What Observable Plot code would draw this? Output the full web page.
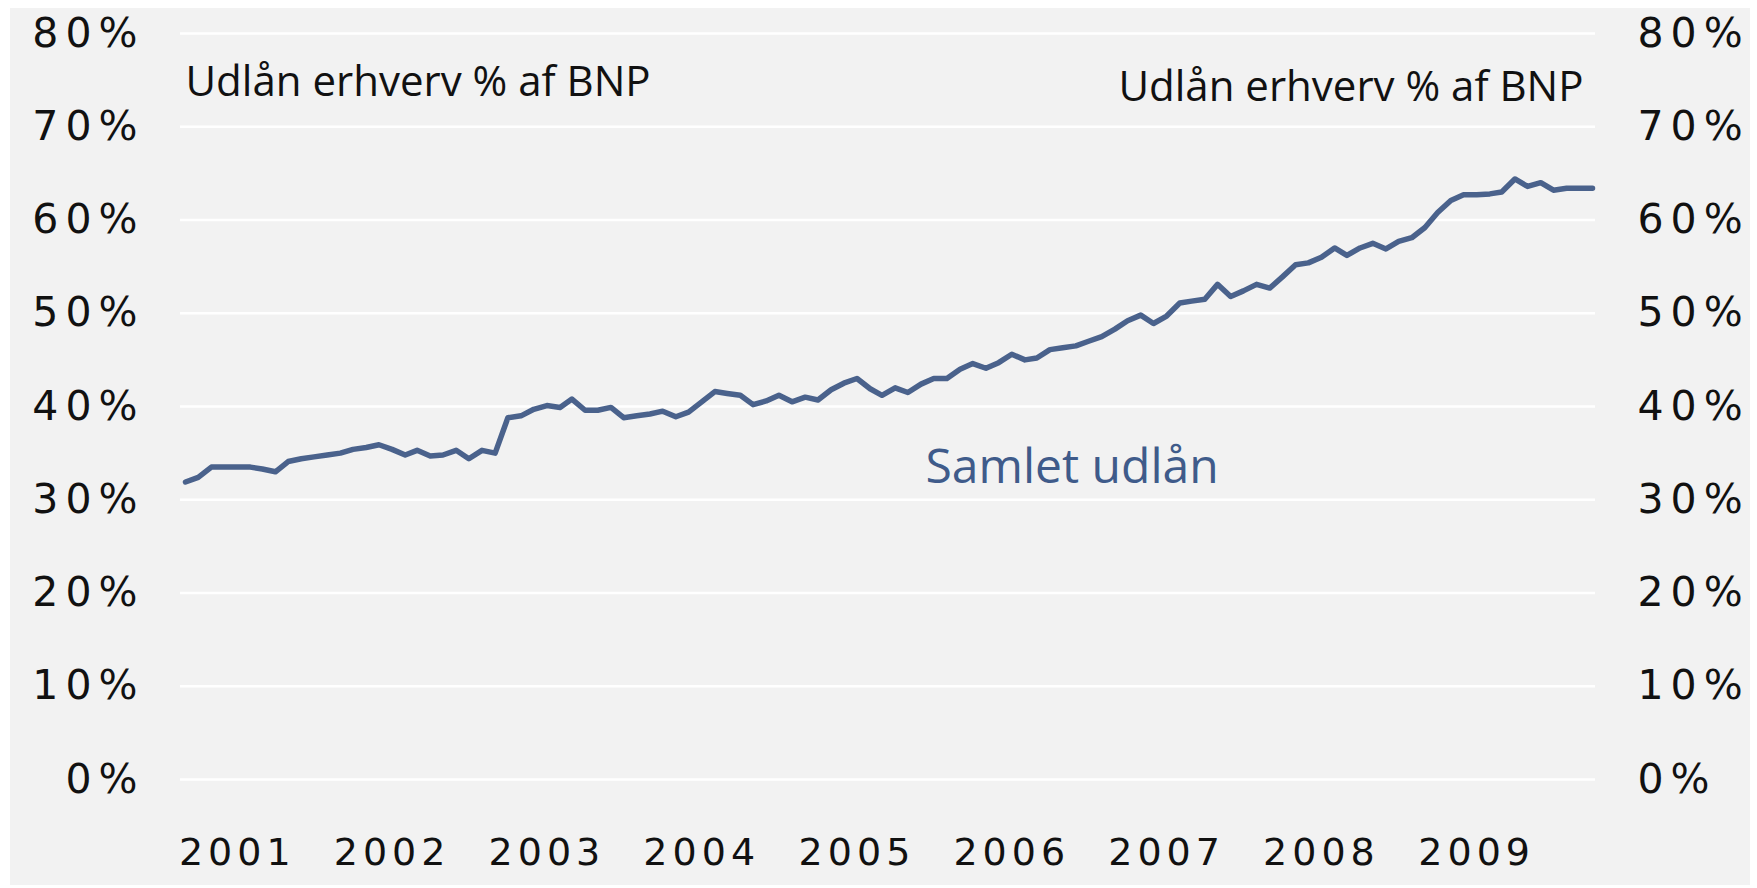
<!DOCTYPE html>
<html>
<head>
<meta charset="utf-8">
<script src="https://cdn.jsdelivr.net/npm/d3@7"></script>
<script src="https://cdn.jsdelivr.net/npm/@observablehq/plot@0.6"></script>
<style>
  html, body { margin: 0; padding: 0; background: #ffffff; }
  #chart { position: absolute; left: 10px; top: 8px; }
</style>
</head>
<body>
<div id="chart"></div>
<script>
// Monthly series, Sep 2000 – Oct 2009 (% of GDP)
const startMonth = new Date(Date.UTC(2000, 8, 1));
const endMonth = new Date(Date.UTC(2009, 10, 1));
const samletUdlaan = [
  31.9, 32.4, 33.5, 33.5, 33.5, 33.5, 33.3, 33.0, 34.1, 34.4,
  34.6, 34.8, 35.0, 35.4, 35.6, 35.9, 35.4, 34.8, 35.3, 34.7,
  34.8, 35.3, 34.4, 35.3, 35.0, 38.8, 39.0, 39.7, 40.1, 39.9,
  40.8, 39.6, 39.6, 39.9, 38.8, 39.0, 39.2, 39.5, 38.9, 39.4,
  40.5, 41.6, 41.4, 41.2, 40.2, 40.6, 41.2, 40.5, 41.0, 40.7,
  41.8, 42.5, 43.0, 41.9, 41.2, 42.0, 41.5, 42.4, 43.0, 43.0,
  44.0, 44.6, 44.1, 44.7, 45.6, 45.0, 45.2, 46.1, 46.3, 46.5,
  47.0, 47.5, 48.3, 49.2, 49.8, 48.9, 49.7, 51.1, 51.3, 51.5,
  53.1, 51.8, 52.4, 53.1, 52.7, 53.9, 55.2, 55.4, 56.0, 57.0,
  56.2, 57.0, 57.5, 56.9, 57.7, 58.1, 59.2, 60.8, 62.1, 62.7,
  62.7, 62.8, 63.0, 64.4, 63.6, 64.0, 63.2, 63.4, 63.4, 63.4
];
const yearTicks = [2001, 2002, 2003, 2004, 2005, 2006, 2007, 2008, 2009];
const yTicks = [0, 10, 20, 30, 40, 50, 60, 70, 80];
const titleText = "Udlån erhverv % af BNP";
const seriesLabel = "Samlet udlån";

const months = d3.utcMonth.range(startMonth, endMonth);
const data = months.map((date, i) => ({date, value: samletUdlaan[i]}));
const yearDates = yearTicks.map(y => new Date(Date.UTC(y, 0, 1)));

const lineColor = "#4a628c";
const axisFont = "DejaVu Sans";
const textFont = "Open Sans";

const chart = Plot.plot({
  width: 1740,
  height: 877,
  marginLeft: 175,
  marginRight: 158,
  marginTop: 25,
  marginBottom: 106,
  style: {background: "#f2f2f2", color: "#000", fontFamily: axisFont, fontSize: "38px", overflow: "visible"},
  x: {type: "utc", domain: [months[0], months[months.length - 1]]},
  y: {domain: [0, 80]},
  marks: [
    Plot.ruleY(yTicks, {stroke: "#ffffff", strokeWidth: 2.5, insetLeft: -5, insetRight: -3}),
    Plot.axisY({anchor: "left", ticks: yTicks, tickSize: 0, tickPadding: 48, dx: 7, tickFormat: d => d + "%", label: null, fontSize: 41, fill: "#111"}),
    Plot.axisY({anchor: "right", ticks: yTicks, tickSize: 0, tickPadding: 45, tickFormat: d => d + "%", label: null, fontSize: 41, fill: "#111"}),
    Plot.axisX({ticks: yearDates, tickSize: 0, tickPadding: 59, tickFormat: d3.utcFormat("%Y"), label: null, fontSize: 38, fill: "#111"}),
    Plot.lineY(data, {x: "date", y: "value", stroke: lineColor, strokeWidth: 5.5, strokeLinejoin: "round"}),
    Plot.text([titleText], {frameAnchor: "top-left", textAnchor: "start", lineAnchor: "middle", dx: 0, dy: 49, fontFamily: textFont, fontSize: 42, fill: "#111"}),
    Plot.text([titleText], {frameAnchor: "top-right", textAnchor: "end", lineAnchor: "middle", dx: -9, dy: 54, fontFamily: textFont, fontSize: 42, fill: "#111"}),
    Plot.text([seriesLabel], {frameAnchor: "top-left", textAnchor: "start", lineAnchor: "middle", dx: 740, dy: 434, fontFamily: textFont, fontSize: 48, fill: "#3f5b8a"})
  ]
});

d3.select(chart).selectAll('g[aria-label="y-axis tick label"] text').style("letter-spacing", "7px");
d3.select(chart).selectAll('g[aria-label="x-axis tick label"] text').style("letter-spacing", "5px");
document.getElementById("chart").appendChild(chart);
</script>
</body>
</html>
